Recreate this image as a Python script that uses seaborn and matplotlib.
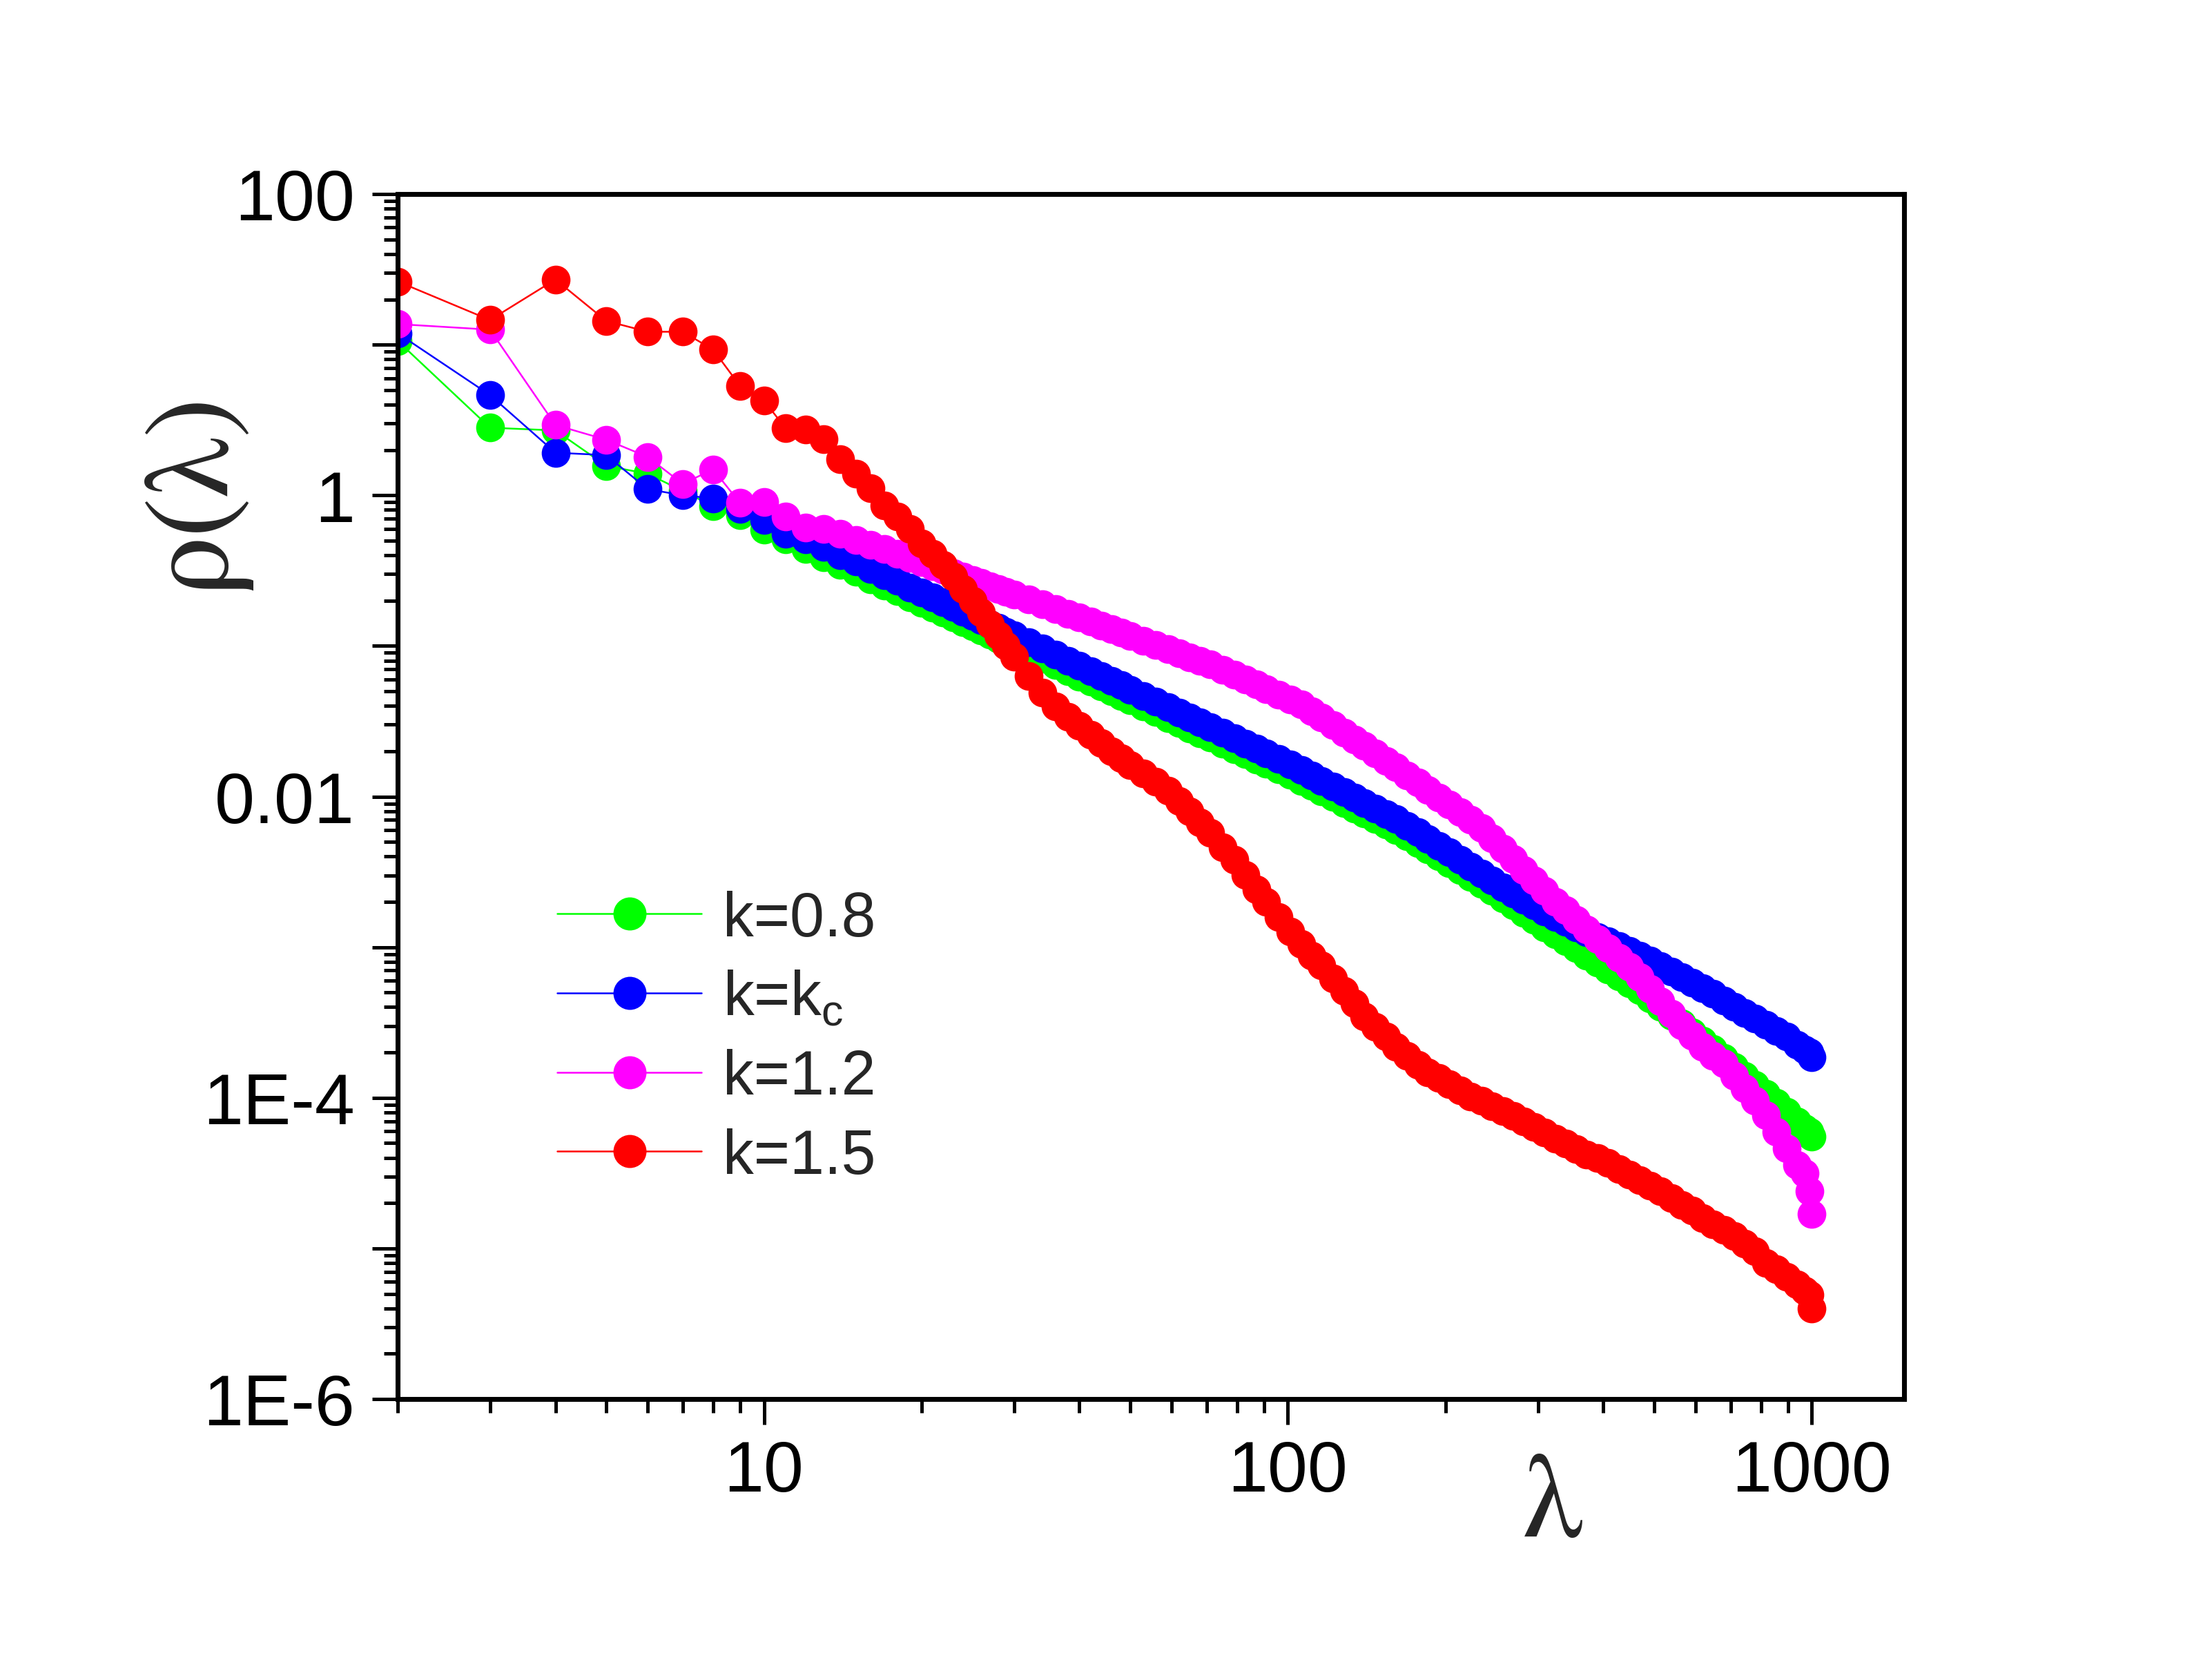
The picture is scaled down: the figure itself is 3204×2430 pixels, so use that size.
import numpy as np
import pandas as pd
import matplotlib
matplotlib.use("Agg")
import matplotlib.pyplot as plt
import matplotlib.lines as mlines
from matplotlib.font_manager import FontProperties
from matplotlib.ticker import LogLocator, NullFormatter
import seaborn as sns

# =====================================================
# DATA (log10 of rho)
# =====================================================

lam = [2, 3, 4, 5, 6, 7, 8, 9, 10, 11, 12, 13, 14, 15, 16, 17, 18, 19, 20,
       21, 22, 23, 24, 25, 26, 27, 28, 29, 30,
       32, 34, 36, 38, 40, 42, 44, 46, 48, 50,
       53, 56, 59, 62, 65, 68, 71, 75, 79, 83,
       87, 91, 96, 101, 106, 111, 116, 122, 128, 134,
       140, 147, 154, 161, 169, 177, 185, 194, 203, 213,
       223, 234, 245, 257, 269, 282, 295, 309, 324, 339,
       355, 372, 390, 408, 428, 448, 469, 491, 514, 539,
       564, 591, 619, 648, 679, 711, 745, 780, 817, 855,
       896, 938, 970, 990, 1000]

log10_rho_k08 = [
    1.025, 0.449, 0.431, 0.196, 0.143, 0.029, -0.072, -0.133, -0.229, -0.292,
    -0.357, -0.409, -0.462, -0.509, -0.556, -0.599, -0.638, -0.678, -0.712,
    -0.747, -0.780, -0.812, -0.842, -0.871, -0.898, -0.925, -0.951, -0.975, -0.999,
    -1.045, -1.087, -1.128, -1.167, -1.203, -1.237, -1.269, -1.302, -1.331, -1.361,
    -1.401, -1.440, -1.478, -1.512, -1.546, -1.579, -1.608, -1.647, -1.684, -1.718,
    -1.753, -1.784, -1.821, -1.857, -1.895, -1.931, -1.965, -2.004, -2.042, -2.078,
    -2.112, -2.149, -2.187, -2.221, -2.264, -2.308, -2.351, -2.398, -2.441, -2.488,
    -2.533, -2.580, -2.627, -2.677, -2.724, -2.772, -2.819, -2.867, -2.916, -2.961,
    -3.007, -3.055, -3.101, -3.147, -3.193, -3.239, -3.285, -3.340, -3.396, -3.454,
    -3.507, -3.565, -3.621, -3.677, -3.734, -3.794, -3.855, -3.915, -3.975, -4.035,
    -4.095, -4.156, -4.201, -4.228, -4.260]

log10_rho_kc = [
    1.076, 0.666, 0.283, 0.267, 0.041, 0.000, -0.020, -0.092, -0.164, -0.256,
    -0.292, -0.342, -0.398, -0.438, -0.488, -0.530, -0.569, -0.611, -0.644,
    -0.677, -0.710, -0.742, -0.772, -0.801, -0.828, -0.855, -0.881, -0.905, -0.929,
    -0.975, -1.017, -1.058, -1.097, -1.133, -1.167, -1.199, -1.232, -1.261, -1.291,
    -1.331, -1.370, -1.408, -1.442, -1.476, -1.509, -1.538, -1.577, -1.614, -1.648,
    -1.683, -1.714, -1.751, -1.787, -1.825, -1.861, -1.895, -1.934, -1.972, -2.008,
    -2.042, -2.079, -2.117, -2.151, -2.194, -2.238, -2.281, -2.328, -2.371, -2.418,
    -2.463, -2.510, -2.557, -2.602, -2.644, -2.687, -2.724, -2.762, -2.801, -2.831,
    -2.867, -2.900, -2.931, -2.962, -2.993, -3.024, -3.055, -3.090, -3.126, -3.164,
    -3.197, -3.235, -3.271, -3.307, -3.354, -3.394, -3.435, -3.475, -3.515, -3.555,
    -3.595, -3.646, -3.681, -3.698, -3.730]

log10_rho_k12 = [
    1.137, 1.100, 0.467, 0.369, 0.255, 0.076, 0.173, -0.051, -0.046, -0.143,
    -0.215, -0.225, -0.256, -0.297, -0.328, -0.357, -0.387, -0.415, -0.444,
    -0.470, -0.494, -0.518, -0.540, -0.562, -0.583, -0.603, -0.622, -0.640, -0.659,
    -0.693, -0.725, -0.756, -0.785, -0.812, -0.838, -0.863, -0.888, -0.910, -0.932,
    -0.964, -0.994, -1.023, -1.049, -1.076, -1.101, -1.124, -1.157, -1.192, -1.225,
    -1.257, -1.287, -1.322, -1.356, -1.389, -1.432, -1.476, -1.527, -1.575, -1.621,
    -1.665, -1.714, -1.762, -1.807, -1.859, -1.908, -1.954, -2.006, -2.052, -2.104,
    -2.153, -2.207, -2.276, -2.348, -2.417, -2.486, -2.555, -2.624, -2.697, -2.756,
    -2.818, -2.883, -2.945, -3.007, -3.069, -3.131, -3.200, -3.275, -3.360, -3.440,
    -3.520, -3.590, -3.660, -3.720, -3.773, -3.855, -3.937, -4.019, -4.116, -4.226,
    -4.336, -4.446, -4.500, -4.620, -4.770]

log10_rho_k15 = [
    1.420, 1.164, 1.433, 1.158, 1.086, 1.086, 0.967, 0.727, 0.630, 0.444,
    0.436, 0.373, 0.241, 0.143, 0.049, -0.066, -0.143, -0.222, -0.319,
    -0.390, -0.460, -0.540, -0.620, -0.700, -0.780, -0.855, -0.930, -1.000, -1.070,
    -1.200, -1.310, -1.400, -1.470, -1.530, -1.590, -1.645, -1.700, -1.745, -1.790,
    -1.845, -1.900, -1.960, -2.030, -2.100, -2.170, -2.240, -2.335, -2.420, -2.520,
    -2.615, -2.700, -2.800, -2.895, -2.980, -3.055, -3.120, -3.210, -3.290, -3.375,
    -3.460, -3.530, -3.595, -3.660, -3.720, -3.780, -3.830, -3.870, -3.910, -3.950,
    -3.990, -4.020, -4.055, -4.090, -4.120, -4.155, -4.195, -4.230, -4.270, -4.305,
    -4.340, -4.375, -4.400, -4.430, -4.475, -4.510, -4.545, -4.585, -4.620, -4.665,
    -4.710, -4.750, -4.800, -4.840, -4.875, -4.920, -4.970, -5.020, -5.095, -5.140,
    -5.190, -5.240, -5.280, -5.310, -5.400]

series_labels = ["k=0.8", r"k=k$_\mathregular{c}$", "k=1.2", "k=1.5"]
series_colors = ["#00FF00", "#0000FF", "#FF00FF", "#FF0000"]

xtick_vals = [10, 100, 1000]
xtick_labels = ["10", "100", "1000"]
ytick_vals = [1e-6, 1e-5, 1e-4, 1e-3, 1e-2, 1e-1, 1, 10, 100]
ytick_labels = ["1E-6", "", "1E-4", "", "0.01", "", "1", "", "100"]

# =====================================================
# LONG TABLE FOR SEABORN
# =====================================================

frames = []
all_logs = [log10_rho_k08, log10_rho_kc, log10_rho_k12, log10_rho_k15]
for label, logs in zip(series_labels, all_logs):
    frames.append(pd.DataFrame({
        "lam": lam,
        "rho": np.power(10.0, np.array(logs)),
        "k": label
    }))
df = pd.concat(frames, ignore_index=True)

# =====================================================
# PLOT
# =====================================================

sns.set_style("ticks")
plt.rcParams["font.family"] = ["Liberation Sans", "DejaVu Sans"]
plt.rcParams["mathtext.fontset"] = "custom"
plt.rcParams["mathtext.rm"] = "Liberation Sans"

fig = plt.figure(figsize=(10.68, 8.103))
ax = fig.add_axes([0.1798, 0.1662, 0.681, 0.7178])

sns.lineplot(
    data=df,
    x="lam",
    y="rho",
    hue="k",
    hue_order=series_labels,
    palette=series_colors,
    marker="o",
    markersize=10,
    markeredgewidth=0,
    linewidth=0.6,
    estimator=None,
    errorbar=None,
    sort=False,
    legend=False,
    ax=ax
)

ax.set_xscale("log")
ax.set_yscale("log")
ax.set_xlim(2, 1500)
ax.set_ylim(1e-6, 100)

ax.set_xticks(xtick_vals, xtick_labels)
ax.set_yticks(ytick_vals, ytick_labels)
ax.xaxis.set_minor_locator(LogLocator(base=10, subs=range(2, 10), numticks=20))
ax.yaxis.set_minor_locator(LogLocator(base=10, subs=range(2, 10), numticks=20))
ax.xaxis.set_minor_formatter(NullFormatter())
ax.yaxis.set_minor_formatter(NullFormatter())

ax.tick_params(which="major", direction="out", length=8.9, width=1.2,
               labelsize=25, top=False, right=False, color="black",
               labelcolor="black")
ax.tick_params(axis="x", which="major", pad=5)
ax.tick_params(axis="y", which="major", pad=6)
ax.tick_params(which="minor", direction="out", length=4.8, width=1.2,
               top=False, right=False, color="black")

for spine in ax.spines.values():
    spine.set_linewidth(1.7)
    spine.set_color("black")

# Times-like face for the greek axis labels
label_font = FontProperties(family=["STIXGeneral", "DejaVu Serif"], size=42)
ax.set_xlabel("λ", fontproperties=label_font, va="center")
ax.set_ylabel("ρ(λ)", fontproperties=label_font, va="center")
ax.xaxis.set_label_coords(0.767, -0.09)
ax.yaxis.set_label_coords(-0.136, 0.755)

handles = [
    mlines.Line2D([], [], color=c, marker="o", markersize=11.5,
                  markeredgewidth=0, linewidth=0.6)
    for c in series_colors
]
ax.legend(
    handles,
    series_labels,
    loc="upper left",
    bbox_to_anchor=(0.106, 0.4225),
    frameon=False,
    fontsize=21.5,
    handlelength=2.33,
    handletextpad=0.35,
    labelspacing=0.33,
    borderpad=0,
    borderaxespad=0
)

fig.savefig("out.png", dpi=300)
plt.close(fig)
